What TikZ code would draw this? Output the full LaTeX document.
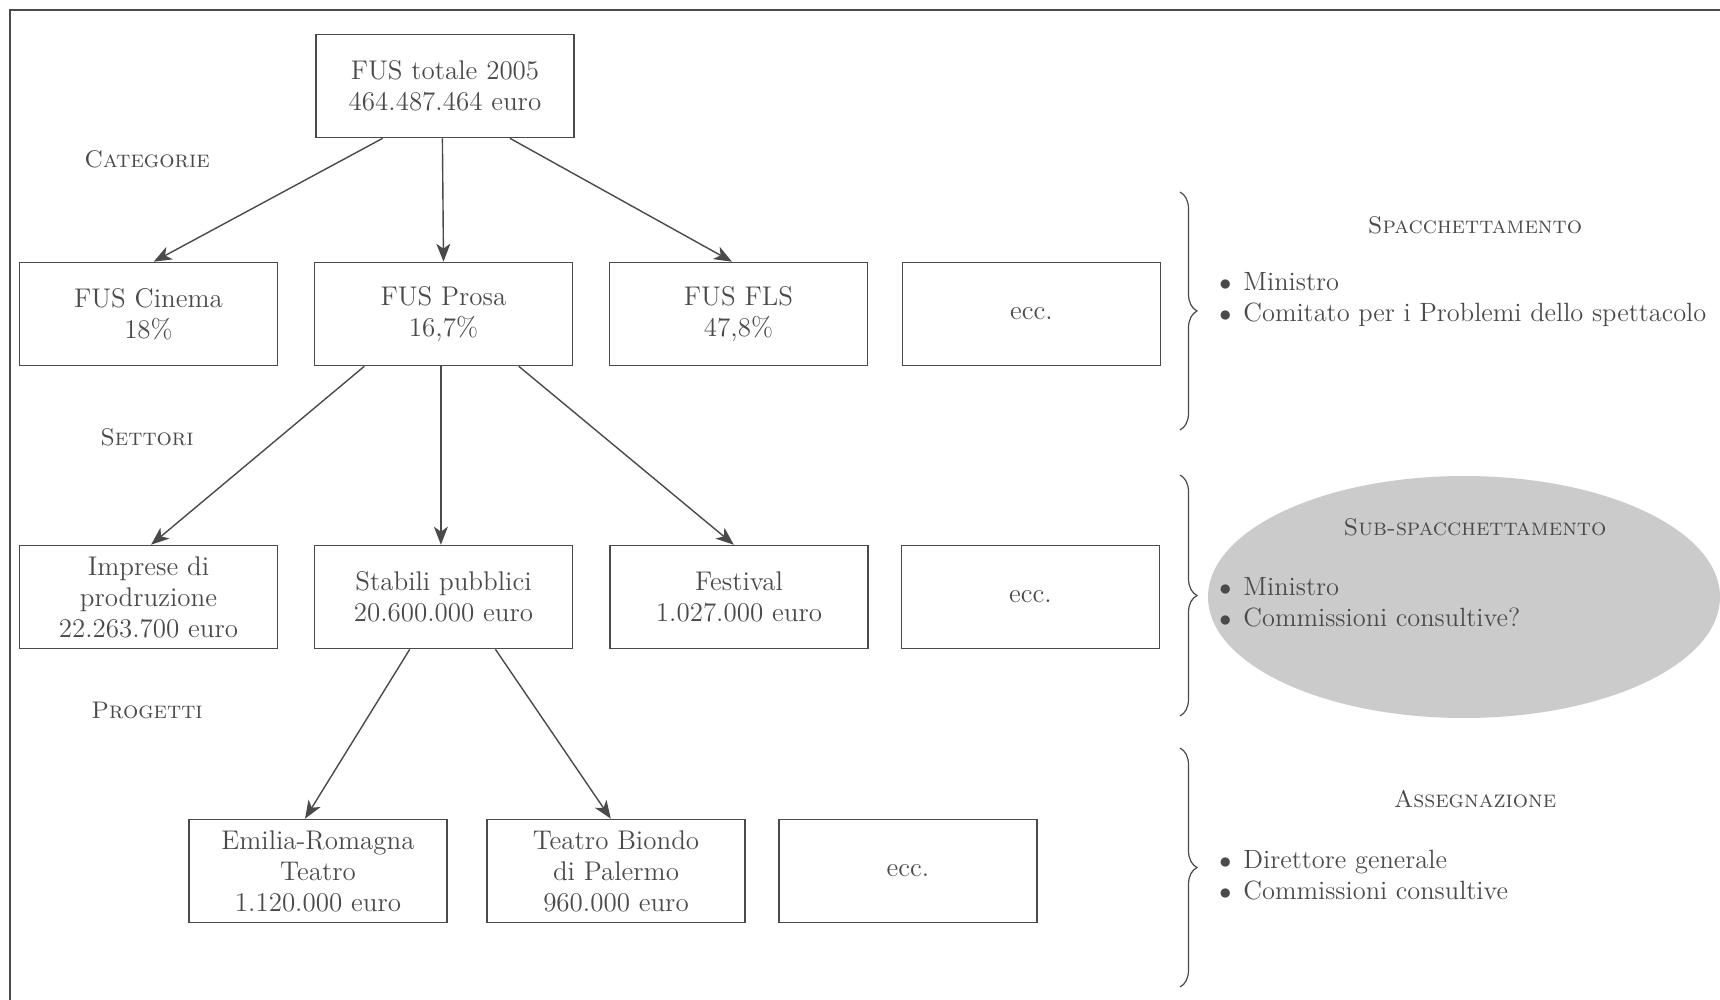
\documentclass[tikz,border=0pt]{standalone}
\usetikzlibrary{arrows.meta,calc,decorations.pathreplacing,shapes.geometric}
\definecolor{ink}{HTML}{4A4A4A}
\definecolor{ellgray}{HTML}{CBCBCB}
\newcommand{\bitem}{$\bullet$\hspace{6pt}}
\begin{document}
\begin{tikzpicture}[x=0.5pt,y=-0.5pt,
  every node/.style={text=ink, font=\fontsize{13.5}{15.5}\selectfont},
  box/.style={draw=ink, line width=0.8pt, minimum width=129pt, minimum height=51.5pt, align=center, inner sep=0pt},
  arr/.style={draw=ink, line width=0.7pt, -{Stealth[length=9pt,width=7pt,inset=2.5pt]}},
  head/.style={font=\fontsize{12}{14}\selectfont, inner sep=0pt},
  brc/.style={draw=ink, line width=0.6pt, decorate, decoration={brace, amplitude=8.5pt}},
  blist/.style={anchor=west, align=left, inner sep=0pt, font=\fontsize{13.2}{15.5}\selectfont}]
\useasboundingbox (0,0) rectangle (1720,1000);
\fill[white] (0,0) rectangle (1720,1000);
\draw[ink, line width=0.8pt] (10,1000) -- (10,10) -- (1720,10);

% ellipse background
\node[ellipse, fill=ellgray, minimum width=256pt, minimum height=121pt, inner sep=0pt] (sub) at (1464,597) {};

% boxes
\node[box] (tot) at (445,86) {FUS totale 2005\\464.487.464 euro};
\node[box] (cin) at (148.5,314) {FUS Cinema\\18\%};
\node[box] (pro) at (443.5,314) {FUS Prosa\\16,7\%};
\node[box] (fls) at (738.5,314) {FUS FLS\\47,8\%};
\node[box] (eccA) at (1031.5,314) {ecc.};
\node[box] (imp) at (148.5,597) {Imprese di\\prodruzione\\22.263.700 euro};
\node[box] (sta) at (443.5,597) {Stabili pubblici\\20.600.000 euro};
\node[box] (fes) at (739,597) {Festival\\1.027.000 euro};
\node[box] (eccB) at (1030.5,597) {ecc.};
\node[box] (emi) at (318,871) {Emilia-Romagna\\Teatro\\1.120.000 euro};
\node[box] (bio) at (616,871) {Teatro Biondo\\di Palermo\\960.000 euro};
\node[box] (eccC) at (908,871) {ecc.};

% level headings
\node[head] (hcat) at (147,159) {\textsc{Categorie}};
\node[head] (hset) at (147,437) {\textsc{Settori}};
\node[head] (hpro) at (147,710) {\textsc{Progetti}};

% arrows
\draw[arr] ($(tot.south west)!0.26!(tot.south east)$) -- ($(cin.north west)!0.52!(cin.north east)$);
\draw[arr] ($(tot.south west)!0.49!(tot.south east)$) -- ($(pro.north west)!0.5!(pro.north east)$);
\draw[arr] ($(tot.south west)!0.75!(tot.south east)$) -- ($(fls.north west)!0.475!(fls.north east)$);
\draw[arr] ($(pro.south west)!0.195!(pro.south east)$) -- ($(imp.north west)!0.51!(imp.north east)$);
\draw[arr] ($(pro.south west)!0.49!(pro.south east)$) -- ($(sta.north west)!0.49!(sta.north east)$);
\draw[arr] ($(pro.south west)!0.79!(pro.south east)$) -- ($(fes.north west)!0.48!(fes.north east)$);
\draw[arr] ($(sta.south west)!0.37!(sta.south east)$) -- ($(emi.north west)!0.45!(emi.north east)$);
\draw[arr] ($(sta.south west)!0.70!(sta.south east)$) -- ($(bio.north west)!0.48!(bio.north east)$);

% braces
\draw[brc] (1180,192) -- (1180,430);
\draw[brc] (1180,475) -- (1180,716);
\draw[brc] (1180,748) -- (1180,987);

% right-hand descriptions
\node[head] (t1) at (1475,225) {\textsc{Spacchettamento}};
\node[blist] (l1) at (1219,299.5) {\bitem Ministro\\\bitem Comitato per i Problemi dello spettacolo};
\node[head] (t2) at (1475,527) {\textsc{Sub-spacchettamento}};
\node[blist] (l2) at (1219,602) {\bitem Ministro\\\bitem Commissioni consultive?};
\node[head] (t3) at (1475,799) {\textsc{Assegnazione}};
\node[blist] (l3) at (1219,875) {\bitem Direttore generale\\\bitem Commissioni consultive};
\end{tikzpicture}
\end{document}
